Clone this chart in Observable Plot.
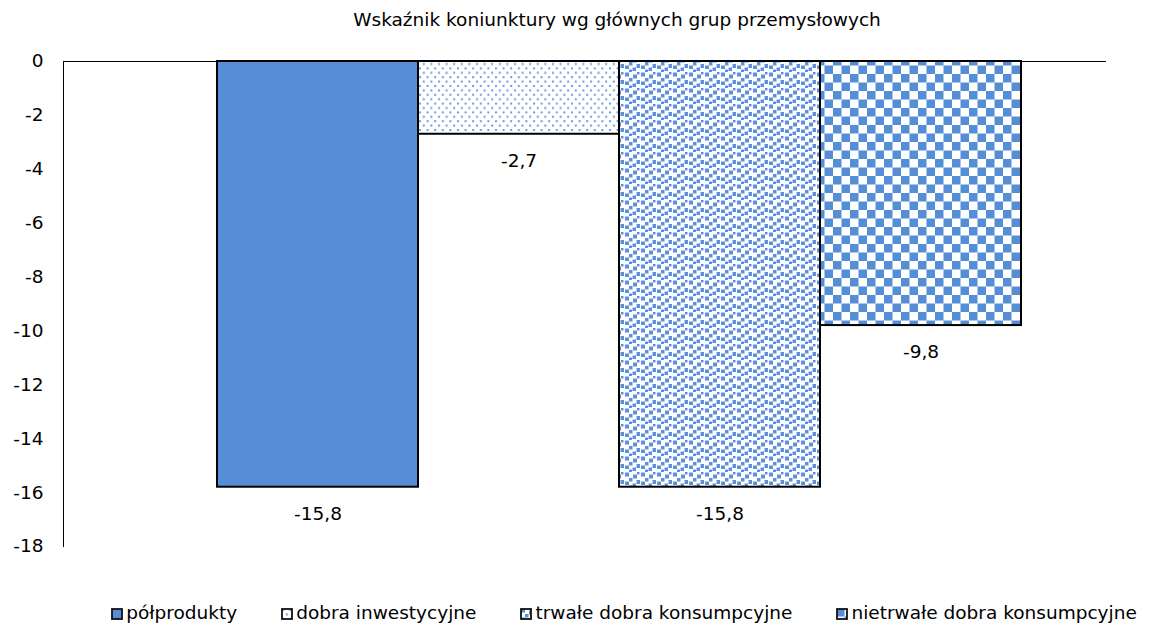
<!DOCTYPE html>
<html>
<head>
<meta charset="utf-8">
<script src="https://cdn.jsdelivr.net/npm/d3@7"></script>
<script src="https://cdn.jsdelivr.net/npm/@observablehq/plot@0.6"></script>
<style>
  html, body { margin: 0; padding: 0; background: #fff; }
  body { width: 1168px; height: 635px; overflow: hidden; font-family: "DejaVu Sans", sans-serif; color: #000; }
  #title { height: 40px; line-height: 40px; font-size: 18.5px; text-align: center; padding-left: 66px; box-sizing: border-box; white-space: nowrap; }
  #legend { height: 45px; display: flex; align-items: center; justify-content: center; padding-left: 80px; box-sizing: border-box; width: 1168px; font-size: 18.5px; white-space: nowrap; }
  .item { display: flex; align-items: center; margin: 0 22px; }
</style>
</head>
<body>
<svg width="0" height="0" style="position:absolute">
  <defs>
    <pattern id="pat0" patternUnits="userSpaceOnUse" width="10" height="10">
      <rect width="10" height="10" fill="#558ED5"/>
    </pattern>
    <pattern id="pat1" patternUnits="userSpaceOnUse" width="7.6" height="8.8">
      <rect width="7.6" height="8.8" fill="#fff"/>
      <rect x="1" y="1" width="2" height="2" fill="#6a9bdb"/>
      <rect x="4.8" y="5.4" width="2" height="2" fill="#6a9bdb"/>
    </pattern>
    <pattern id="pat2" patternUnits="userSpaceOnUse" width="16" height="16">
      <rect width="16" height="16" fill="#fff"/>
      <g fill="#5b92d7">
        <rect x="1" y="0.5" width="4" height="4"/>
        <rect x="9" y="2.5" width="4" height="4"/>
        <rect x="5" y="6" width="3.5" height="3.5"/>
        <rect x="12.5" y="8" width="3.5" height="4"/>
        <rect x="1" y="9.5" width="4" height="3.5"/>
        <rect x="8.5" y="11.5" width="3.5" height="3.5"/>
        <rect x="5" y="13.5" width="3" height="2.5"/>
        <rect x="13" y="0" width="2.5" height="2.5"/>
      </g>
    </pattern>
    <pattern id="pat3" patternUnits="userSpaceOnUse" width="17" height="17">
      <rect width="17" height="17" fill="#fff"/>
      <rect x="0" y="0" width="8.5" height="8.5" fill="#558ED5"/>
      <rect x="8.5" y="8.5" width="8.5" height="8.5" fill="#558ED5"/>
    </pattern>
  </defs>
</svg>
<div id="title">Wskaźnik koniunktury wg głównych grup przemysłowych</div>
<div id="chart"></div>
<div id="legend"></div>
<script>
const categories = ["półprodukty", "dobra inwestycyjne", "trwałe dobra konsumpcyjne", "nietrwałe dobra konsumpcyjne"];
const values = [-15.8, -2.7, -15.8, -9.8];
const patterns = ["url(#pat0)", "url(#pat1)", "url(#pat2)", "url(#pat3)"];
const yTicks = [0, -2, -4, -6, -8, -10, -12, -14, -16, -18];

const data = categories.map((c, i) => ({name: c, value: values[i]}));
const fmt = d => String(d).replace(".", ",");

const chart = Plot.plot({
  width: 1168,
  height: 550,
  marginTop: 21,
  marginBottom: 44,
  marginLeft: 63,
  marginRight: 62,
  style: {fontFamily: '"DejaVu Sans", sans-serif', fontSize: "18.5px", color: "#000", background: "transparent", overflow: "visible"},
  x: {domain: categories, paddingInner: 0, paddingOuter: 0.5817, align: 0.6426, axis: null},
  y: {domain: [-18, 0], ticks: yTicks, tickFormat: d => String(d), tickSize: 0, tickPadding: 20, label: null},
  color: {domain: categories, range: patterns, type: "ordinal"},
  marks: [
    Plot.axisY({ticks: yTicks, tickFormat: d => String(d), tickSize: 0, tickPadding: 20, fontSize: 18.5, label: null}),
    Plot.frame({anchor: "left", stroke: "#000", strokeWidth: 1}),
    Plot.barY(data, {x: "name", y: "value", fill: "name", stroke: "#000", strokeWidth: 2, inset: 0}),
    Plot.ruleY([0], {stroke: "#000", strokeWidth: 1}),
    Plot.text(data, {x: "name", y: "value", text: d => fmt(d.value), dy: 27, fontSize: 18.5, fill: "#000"})
  ]
});
document.getElementById("chart").appendChild(chart);

const legend = document.getElementById("legend");
categories.forEach((c, i) => {
  const item = document.createElement("div");
  item.className = "item";
  const sw = document.createElementNS("http://www.w3.org/2000/svg", "svg");
  sw.setAttribute("width", 12); sw.setAttribute("height", 12);
  sw.style.marginRight = "3px";
  sw.style.marginTop = "2px";
  const r = document.createElementNS("http://www.w3.org/2000/svg", "rect");
  r.setAttribute("x", 1); r.setAttribute("y", 1); r.setAttribute("width", 10); r.setAttribute("height", 10);
  r.setAttribute("fill", patterns[i]); r.setAttribute("stroke", "#111"); r.setAttribute("stroke-width", 1.8);
  sw.appendChild(r);
  const t = document.createElement("span");
  t.textContent = c;
  item.appendChild(sw); item.appendChild(t);
  legend.appendChild(item);
});
</script>
</body>
</html>
